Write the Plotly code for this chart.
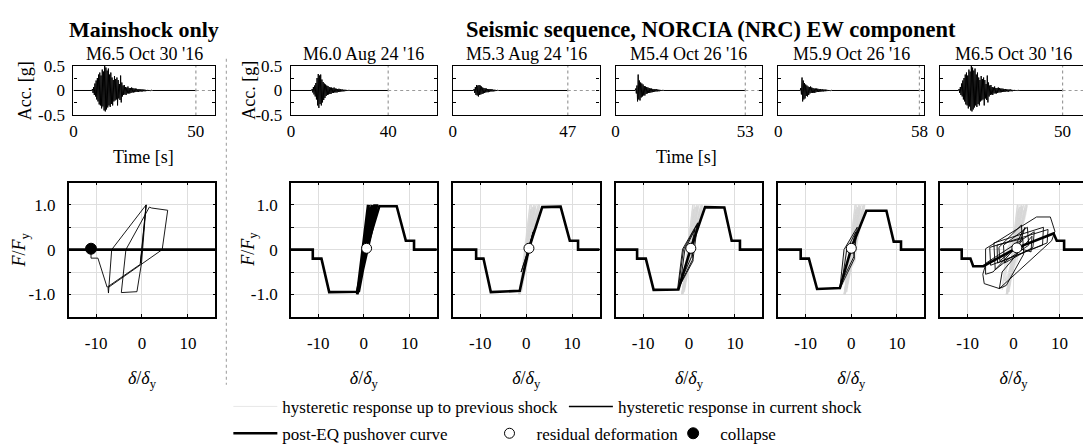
import plotly.graph_objects as go

# figure is slightly larger than the 1083x444 window: the reference is a crop
W, H = 1100, 460
FONT = "Liberation Serif"

# ---------------- data ----------------
event_titles = ["M6.5 Oct 30 '16", "M6.0 Aug 24 '16", "M5.3 Aug 24 '16",
                "M5.4 Oct 26 '16", "M5.9 Oct 26 '16", "M6.5 Oct 30 '16"]
durations = [50, 40, 47, 53, 58, 50]
acc_dt = 0.25
hyst_ticks = [-10, 0, 10]
hyst_tick_text = ["-10", "0", "10"]

# accelerograms (g), sampled every acc_dt seconds from the onset time
onset_m65 = 7.5
acc_m65 = [0.0, 0.03, -0.05, 0.07, -0.09, 0.14, -0.12, 0.2, -0.18, 0.25,
           -0.22, 0.32, -0.28, 0.36, -0.3, 0.3, -0.36, 0.42, -0.32, 0.38,
           -0.4, 0.56, -0.42, 0.46, -0.38, 0.4, -0.34, 0.44, -0.3, 0.32,
           -0.33, 0.36, -0.27, 0.26, -0.3, 0.21, -0.22, 0.29, -0.2, 0.23,
           -0.18, 0.26, -0.3, 0.21, -0.16, 0.13, -0.19, 0.3, -0.24, 0.16,
           -0.12, 0.1, -0.09, 0.11, -0.08, 0.07, -0.09, 0.06, -0.06, 0.08,
           -0.06, 0.05, -0.06, 0.05, -0.05, 0.06, -0.04, 0.05, -0.04, 0.04,
           -0.035, 0.04, -0.03, 0.035, -0.03, 0.025, -0.03, 0.03, -0.02, 0.025,
           -0.02, 0.02, -0.025, 0.02, -0.015, 0.02, -0.015, 0.015, -0.015, 0.01,
           -0.01, 0.012, -0.01, 0.01, -0.008, 0.008, -0.006, 0.006, -0.005, 0.0]
onset_m60 = 8.5
acc_m60 = [0.0, 0.03, -0.04, 0.07, -0.08, 0.1, -0.12, 0.15, -0.18, 0.25,
           -0.3, 0.33, -0.35, 0.3, -0.27, 0.32, -0.3, 0.22, -0.24, 0.17,
           -0.19, 0.14, -0.15, 0.12, -0.11, 0.1, -0.09, 0.09, -0.08, 0.07,
           -0.07, 0.06, -0.07, 0.06, -0.05, 0.05, -0.05, 0.06, -0.04, 0.04,
           -0.04, 0.035, -0.04, 0.03, -0.03, 0.035, -0.025, 0.03, -0.025, 0.02,
           -0.02, 0.02, -0.018, 0.015, -0.015, 0.015, -0.012, 0.012, -0.01, 0.01,
           -0.008, 0.008, -0.006, 0.0]
onset_m53 = 8.5
acc_m53 = [0.0, 0.03, -0.05, 0.07, -0.09, 0.11, -0.1, 0.1, -0.12, 0.11,
           -0.09, 0.1, -0.08, 0.08, -0.07, 0.06, -0.06, 0.05, -0.05, 0.045,
           -0.04, 0.04, -0.035, 0.03, -0.035, 0.03, -0.025, 0.03, -0.02, 0.025,
           -0.02, 0.02, -0.02, 0.015, -0.015, 0.015, -0.012, 0.01, -0.01, 0.008,
           -0.006, 0.0]
onset_m54 = 8.0
acc_m54 = [0.0, 0.04, -0.06, 0.1, -0.22, 0.32, -0.18, 0.2, -0.2, 0.16,
           -0.14, 0.14, -0.12, 0.12, -0.1, 0.09, -0.1, 0.08, -0.07, 0.07,
           -0.06, 0.06, -0.05, 0.05, -0.05, 0.04, -0.04, 0.04, -0.035, 0.03,
           -0.03, 0.03, -0.025, 0.025, -0.02, 0.025, -0.02, 0.02, -0.015, 0.015,
           -0.015, 0.012, -0.01, 0.01, -0.01, 0.008, -0.006, 0.0]
onset_m59 = 9.0
acc_m59 = [0.0, 0.05, -0.08, 0.26, -0.22, 0.2, -0.18, 0.15, -0.16, 0.12,
           -0.11, 0.1, -0.12, 0.08, -0.09, 0.07, -0.06, 0.08, -0.05, 0.06,
           -0.05, 0.05, -0.045, 0.04, -0.05, 0.04, -0.035, 0.04, -0.03, 0.035,
           -0.03, 0.03, -0.025, 0.03, -0.025, 0.02, -0.02, 0.025, -0.02, 0.02,
           -0.015, 0.02, -0.015, 0.015, -0.012, 0.012, -0.01, 0.01, -0.008, 0.008,
           -0.006, 0.005, 0.0]

acc_records = [(onset_m65, acc_m65), (onset_m60, acc_m60), (onset_m53, acc_m53),
               (onset_m54, acc_m54), (onset_m59, acc_m59), (onset_m65, acc_m65)]

# hysteretic response in each shock (delta/delta_y, F/F_y)
hyst_x_ms = [0, 0.4, -0.3, 0.9, -0.1, -1.1, -4.5, -3.5, 1.6, 2.1, 5.6, 4.4, -7.4, -7.3, -6.6, 0.9, -0.4, -7.6, -9.6, -11.1, -11.1]
hyst_y_ms = [0, 0.45, -0.3, 1.0, -0.3, -0.94, -0.96, 0.0, 0.95, 0.93, 0.88, 0.0, -0.85, -0.97, 0.0, 1.0, -0.33, -0.84, -0.19, -0.19, 0.02]

hyst_x_s1 = [0, 0.6, -0.5, 1.0, -0.9, 1.4, -1.2, 0.9, -1.4, 1.8, -1.1, 2.2, 2.9, 2.4, -1.5, 1.2, -1.0, 2.6, 3.0, 2.7,
             -1.3, 0.8, -1.6, 1.6, -0.8, 2.0, -1.2, 2.8, 1.5, -1.4, 1.1, -0.6, 2.3, -1.5, 1.9, -1.0, 2.5, -1.3, 1.3,
             -1.6, 2.1, -0.9, 1.7, -1.4, 2.4, -1.1, 1.0, -1.5, 2.7, -0.7, 1.4, -1.2, 2.9, -0.9, 2.2, -1.5, 1.8, 0.6]
hyst_y_s1 = [0, 0.5, -0.45, 0.9, -0.85, 0.95, -0.95, 1.0, -1.0, 1.0, -0.9, 1.0, 1.0, 0.75, -1.0, 1.0, -0.95, 1.0, 1.0, 0.8,
             -1.0, 1.0, -1.0, 1.0, -0.7, 0.95, -0.9, 1.0, 0.5, -1.0, 0.9, -0.5, 0.8, -0.98, 0.97, -0.85, 0.98, -0.96, 0.95,
             -1.0, 0.99, -0.8, 0.96, -0.97, 0.92, -0.9, 0.85, -0.99, 0.9, -0.6, 0.7, -0.92, 0.97, -0.75, 0.88, -0.95, 0.93, 0.03]
hyst_x_s2 = [0.6, 1.5, -0.4, 1.8, -0.7, 1.2, -1.1, 1.6, -0.5, 1.4, 0.6]
hyst_y_s2 = [0.03, 0.4, -0.4, 0.45, -0.55, 0.25, -0.5, 0.35, -0.45, 0.3, 0.03]
hyst_x_s3 = [0.6, 0.9, -2.5, -1.4, 1.9, 0.9, -2.3, -1.2, 1.7, 0.6, -1.8, -0.9, 1.3, 0.4]
hyst_y_s3 = [0.03, -0.25, -0.9, 0.01, 0.6, -0.2, -0.85, 0.0, 0.55, -0.15, -0.7, 0.0, 0.45, 0.03]
hyst_x_s4 = [0.4, 0.7, -2.5, -1.6, 1.3, 0.6, -2.0, -1.0, 1.0, 0.0]
hyst_y_s4 = [0.03, -0.2, -0.87, 0.0, 0.5, -0.15, -0.7, 0.0, 0.4, 0.03]
hyst_x_s5 = [0.0, 2.5, 1.2, -3.0, -3.2, 1.7, 1.9, -4.5, -6.1, -6.1, 5.0, 8.0, 9.0, 8.3, -3.1, -6.4, -6.7, -6.0,
             4.5, 4.2, -2.0, -2.2, 3.0, 3.3, -1.0, -4.0, -4.3, 6.5, 6.3, -5.0, -5.2, 7.5, 7.3, -3.5, -3.6,
             2.0, 2.2, -1.6, -3.1, -2.5, 4.0, 3.8, 0.7]
hyst_y_s5 = [0.03, 0.5, 0.1, -0.25, 0.05, 0.55, 0.2, -0.5, -0.55, 0.02, 0.73, 0.73, 0.41, 0.2, -0.87, -0.76, -0.55, -0.3,
             0.4, 0.05, -0.3, 0.1, 0.5, 0.1, -0.2, -0.45, 0.15, 0.5, 0.1, -0.35, 0.05, 0.45, 0.15, -0.3, 0.1,
             0.25, -0.1, -0.8, -0.87, -0.5, 0.3, -0.05, 0.04]

hyst_x = [hyst_x_ms, hyst_x_s1, hyst_x_s2, hyst_x_s3, hyst_x_s4, hyst_x_s5]
hyst_y = [hyst_y_ms, hyst_y_s1, hyst_y_s2, hyst_y_s3, hyst_y_s4, hyst_y_s5]

# post-EQ pushover curves
push_x = [[-16, 16],
          [-16, -11.2, -11.2, -9.3, -7.6, -1.5, 0.6, 3.4, 7.2, 9.2, 11.0, 11.0, 16],
          [-16, -10.9, -10.9, -9.3, -7.7, -1.4, 0.6, 3.5, 7.5, 9.5, 11.3, 11.3, 16],
          [-16, -11.3, -11.3, -9.4, -7.7, -2.3, 0.4, 3.5, 7.7, 9.3, 11.1, 11.1, 16],
          [-16, -11.1, -11.1, -9.3, -7.5, -2.5, 0.0, 3.3, 7.7, 9.3, 10.9, 10.9, 16],
          [-16, -11.3, -11.3, -9.4, -8.8, -6.6, 0.7, 8.7, 9.4, 11.0, 11.0, 16]]
push_y = [[0, 0],
          [0, 0, -0.2, -0.2, -0.95, -0.94, 0.03, 0.97, 0.97, 0.2, 0.2, 0, 0],
          [0, 0, -0.2, -0.2, -0.95, -0.92, 0.03, 0.95, 0.96, 0.2, 0.2, 0, 0],
          [0, 0, -0.2, -0.2, -0.9, -0.89, 0.03, 0.95, 0.94, 0.2, 0.2, 0, 0],
          [0, 0, -0.2, -0.2, -0.88, -0.86, 0.03, 0.87, 0.87, 0.18, 0.18, 0, 0],
          [0, 0, -0.2, -0.2, -0.37, -0.37, 0.04, 0.36, 0.2, 0.2, 0, 0]]

residual_x = [None, 0.6, 0.6, 0.4, 0.0, 0.7]
residual_y = [None, 0.03, 0.03, 0.03, 0.03, 0.04]
collapse_x = [-11.1]
collapse_y = [0.02]

# ---------------- layout geometry (pixels from top-left) ----------------
acc_px = [(70, 213), (289, 436), (452, 600), (616, 764), (780, 927), (943, 1091)]
hys_px = [(65, 213), (289, 436), (452, 600), (616, 764), (780, 927), (943, 1091)]
acc_top, acc_bot = 59, 111
hys_top, hys_bot = 181, 321


def fx(px):
    return px / W


def fy(py):
    return 1 - py / H


fig = go.Figure()
layout = {}
line_w = [0.9, 1.5, 0.9, 0.9, 0.9, 0.9]

for p in range(6):
    ia, ih = p + 1, p + 7
    xa_a = "x" if ia == 1 else f"x{ia}"
    ya_a = "y" if ia == 1 else f"y{ia}"
    xa_h, ya_h = f"x{ih}", f"y{ih}"

    # ---- accelerogram
    onset, vals = acc_records[p]
    dur = durations[p]
    t = [0.0] + [onset + i * acc_dt for i in range(len(vals))] + [dur]
    a = [0.0] + vals + [0.0]
    fig.add_trace(go.Scatter(x=t, y=a, mode="lines", line=dict(color="black", width=1.0),
                             xaxis=xa_a, yaxis=ya_a, showlegend=False, hoverinfo="skip"))
    xend = 58 if p == 0 else 60
    fig.add_trace(go.Scatter(x=[dur, dur, None, dur, xend], y=[-0.5, 0.5, None, 0, 0], mode="lines",
                             line=dict(color="#9a9a9a", width=1.2, dash="dot"),
                             xaxis=xa_a, yaxis=ya_a, showlegend=False, hoverinfo="skip"))

    # ---- hysteresis: previous shocks (grey)
    if p >= 2:
        gx, gy = [], []
        for q in range(1, p):
            gx += hyst_x[q] + [None]
            gy += hyst_y[q] + [None]
        fig.add_trace(go.Scatter(x=gx, y=gy, mode="lines", line=dict(color="#d6d6d6", width=0.6),
                                 xaxis=xa_h, yaxis=ya_h, hoverinfo="skip",
                                 name="hysteretic response up to previous shock",
                                 showlegend=(p == 2), legend="legend"))
    # current shock
    fig.add_trace(go.Scatter(x=hyst_x[p], y=hyst_y[p], mode="lines", line=dict(color="black", width=line_w[p]),
                             xaxis=xa_h, yaxis=ya_h, hoverinfo="skip",
                             name="hysteretic response in current shock",
                             showlegend=(p == 1), legend="legend2"))
    # pushover
    fig.add_trace(go.Scatter(x=push_x[p], y=push_y[p], mode="lines", line=dict(color="black", width=2.6),
                             xaxis=xa_h, yaxis=ya_h, hoverinfo="skip",
                             name="post-EQ pushover curve",
                             showlegend=(p == 1), legend="legend3"))
    if p == 0:
        fig.add_trace(go.Scatter(x=collapse_x, y=collapse_y, mode="markers",
                                 marker=dict(color="black", size=11, line=dict(color="black", width=1)),
                                 xaxis=xa_h, yaxis=ya_h, hoverinfo="skip", name="collapse",
                                 showlegend=True, legend="legend5"))
    else:
        fig.add_trace(go.Scatter(x=[residual_x[p]], y=[residual_y[p]], mode="markers",
                                 marker=dict(color="white", size=10, line=dict(color="black", width=1)),
                                 xaxis=xa_h, yaxis=ya_h, hoverinfo="skip", name="residual deformation",
                                 showlegend=(p == 1), legend="legend4"))

    # ---- axes
    a0, a1 = acc_px[p]
    h0, h1 = hys_px[p]
    show_y = p in (0, 1)
    tickfont = dict(family=FONT, size=17, color="black")

    layout[f"xaxis{ia}"] = dict(domain=[fx(a0), fx(a1)], range=[0, xend], anchor=ya_a,
                                showline=True, linecolor="black", linewidth=1.3, mirror=True,
                                showgrid=False, zeroline=False, tickvals=[0, dur],
                                ticktext=["0", str(dur)], ticks="", tickfont=tickfont,
                                ticklabelstandoff=0, fixedrange=True)
    layout[f"yaxis{ia}"] = dict(domain=[fy(acc_bot), fy(acc_top)], range=[-0.5, 0.5], anchor=xa_a,
                                showline=True, linecolor="black", linewidth=1.3, mirror="ticks",
                                showgrid=False, zeroline=False,
                                tickvals=[-0.5, -0.25, 0, 0.25, 0.5],
                                ticktext=["-0.5", " ", "0", " ", "0.5"], showticklabels=show_y,
                                ticks="inside", ticklen=3, tickcolor="black", tickfont=tickfont,
                                ticklabelstandoff=4, fixedrange=True)
    layout[f"xaxis{ih}"] = dict(domain=[fx(h0), fx(h1)], range=[-16, 16], anchor=ya_h,
                                showline=True, linecolor="black", linewidth=1.5, mirror="ticks",
                                showgrid=True, gridcolor="#dedede", gridwidth=1, zeroline=False,
                                tickvals=hyst_ticks, ticktext=hyst_tick_text,
                                ticks="inside", ticklen=3, tickcolor="black",
                                tickfont=tickfont, ticklabelstandoff=10,
                                title=dict(text="<i>δ</i>/<i>δ</i><sub>y</sub>",
                                           font=dict(family=FONT, size=18, color="black"), standoff=20),
                                fixedrange=True)
    layout[f"yaxis{ih}"] = dict(domain=[fy(hys_bot), fy(hys_top)], range=[-1.5, 1.5], anchor=xa_h,
                                showline=True, linecolor="black", linewidth=1.5, mirror="ticks",
                                showgrid=True, gridcolor="#dedede", gridwidth=1, zeroline=False,
                                tickvals=[-1.5, -1, -0.5, 0, 0.5, 1, 1.5],
                                ticktext=[" ", "-1.0", " ", "0", " ", "1.0", " "], showticklabels=show_y,
                                ticks="inside", ticklen=3, tickcolor="black", tickfont=tickfont,
                                ticklabelstandoff=8, fixedrange=True)

# ---------------- text ----------------
ann = []


def text(x, y, s, size, bold=False, angle=0):
    ann.append(dict(x=fx(x), y=fy(y), xref="paper", yref="paper", text=f"<b>{s}</b>" if bold else s,
                    showarrow=False, textangle=angle, xanchor="center", yanchor="middle",
                    font=dict(family=FONT, size=size, color="black")))


text(141, 21, "Mainshock only", 22, bold=True)
text(712, 21, "Seismic sequence, NORCIA (NRC) EW component", 22.5, bold=True)
for p in range(6):
    a0, a1 = acc_px[p]
    text((a0 + a1) / 2, 47, event_titles[p], 18)
text(141, 154, "Time [s]", 18)
text(688, 154, "Time [s]", 18)
text(22, 85, "Acc. [g]", 18, angle=-90)
text(247, 85, "Acc. [g]", 18, angle=-90)
text(17, 251, "<i>F</i>/<i>F</i><sub>y</sub>", 18, angle=-90)
text(247, 251, "<i>F</i>/<i>F</i><sub>y</sub>", 18, angle=-90)

legfont = dict(family=FONT, size=17, color="black")


def leg(x, y):
    return dict(x=fx(x), y=fy(y), xanchor="left", yanchor="middle", orientation="h",
                bgcolor="rgba(0,0,0,0)", borderwidth=0, font=legfont, itemwidth=44,
                itemclick=False, itemdoubleclick=False)


fig.update_layout(
    width=W, height=H, autosize=False,
    margin=dict(l=0, r=0, t=0, b=0),
    paper_bgcolor="white", plot_bgcolor="white",
    font=dict(family=FONT, size=17, color="black"),
    annotations=ann,
    shapes=[dict(type="line", xref="paper", yref="paper", x0=fx(224), x1=fx(224), y0=fy(52), y1=fy(392),
                 line=dict(color="#aaaaaa", width=1.2, dash="dot"))],
    legend=leg(226, 415), legend2=leg(564, 415), legend3=leg(226, 443),
    legend4=leg(482, 443), legend5=leg(667, 443),
    **layout,
)

fig.write_html("out.html", config={"displayModeBar": False},
               post_script="document.body.style.margin='0';document.body.style.overflow='hidden';")
